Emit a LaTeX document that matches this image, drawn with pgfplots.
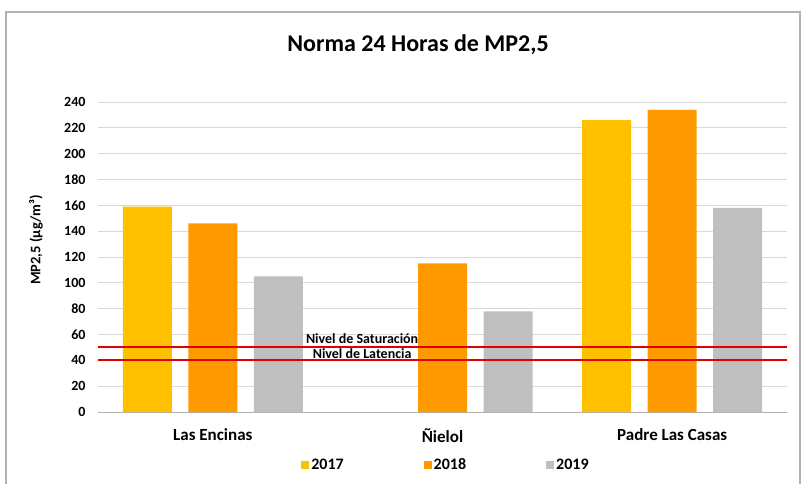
\documentclass[border=0pt]{standalone}
\usepackage{pgfplots}
\pgfplotsset{compat=1.18}
\usepackage{fontspec}
\setmainfont{Carlito}
\definecolor{c17}{HTML}{FFC000}
\definecolor{c18}{HTML}{FF9900}
\definecolor{c19}{HTML}{BFBFBF}
\definecolor{gridc}{HTML}{D9D9D9}
\definecolor{redline}{HTML}{E00000}

\begin{document}
\begin{tikzpicture}[x=1pt,y=1pt]
\useasboundingbox (0,0) rectangle (803,-483);
\draw[gray!60, line width=1.2pt] (6,-12) rectangle (800,-495);
\node[font=\fontsize{24}{28}\selectfont\bfseries] at (418,-45) {Norma 24 Horas de MP2,5};
\node[rotate=90, font=\fontsize{14.5}{16}\selectfont\bfseries] at (36,-240) {MP2,5 (µg/m³)};

\begin{axis}[
    at={(98pt,-412pt)}, anchor=south west,
    scale only axis, width=689pt, height=310pt,
    xmin=-0.5, xmax=2.5, ymin=0, ymax=240,
    xtick={0,1,2},
    xticklabels={Las Encinas, Ñielol, Padre Las Casas},
    ytick={0,20,...,240},
    ymajorgrids, grid style={gridc, line width=0.8pt},
    major tick length=0pt,
    axis x line*=bottom, axis y line*=left,
    x axis line style={-, gray!60, line width=1pt},
    y axis line style={draw=none},
    /pgf/number format/assume math mode=true,
    yticklabel style={font=\fontsize{14}{16}\selectfont\bfseries, xshift=-9pt},
    xticklabel style={font=\fontsize{17}{19}\selectfont\bfseries, yshift=-13pt},
    legend style={at={(0.505,-0.171)}, anchor=center, draw=none, fill=none,
        legend columns=3, font=\fontsize{16}{18}\selectfont\bfseries,
        /tikz/every even column/.append style={column sep=78pt}},
    legend image code/.code={\fill[#1,draw=none] (0pt,-4pt) rectangle (8pt,4pt);},
]
\addplot[ybar, bar width=49pt, bar shift=-65.5pt, fill=c17, draw=none] coordinates {(0,159) (2,226)};
\addplot[ybar, bar width=49pt, bar shift=0pt, fill=c18, draw=none] coordinates {(0,146) (1,115) (2,234)};
\addplot[ybar, bar width=49pt, bar shift=65.5pt, fill=c19, draw=none] coordinates {(0,105) (1,78) (2,158)};
\legend{2017, 2018, 2019}
\node[font=\fontsize{14}{16}\selectfont\bfseries] at (axis cs:0.65,56.5) {Nivel de Saturación};
\node[font=\fontsize{14}{16}\selectfont\bfseries] at (axis cs:0.65,45) {Nivel de Latencia};
\addplot[draw=redline, line width=2pt, mark=none, forget plot] coordinates {(-0.515,40) (2.5,40)};
\addplot[draw=redline, line width=2pt, mark=none, forget plot] coordinates {(-0.515,50) (2.5,50)};
\end{axis}
\end{tikzpicture}
\end{document}
